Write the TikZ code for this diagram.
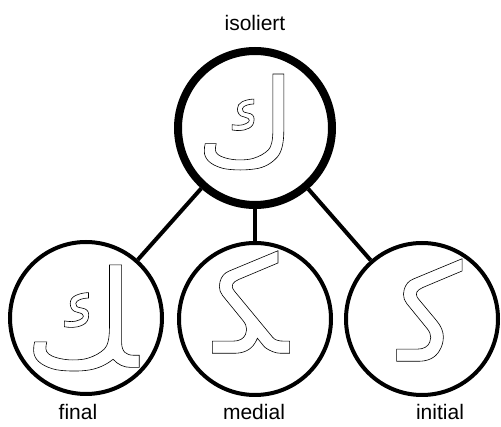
\documentclass[tikz,border=0pt]{standalone}
\usepackage{fontspec}
\setmainfont{Liberation Sans}
\newfontfamily\arabicfont[Script=Arabic]{DejaVu Sans}
\TeXXeTstate=1
\newcommand{\outlinetext}[1]{\special{pdf:literal direct 1 Tr 0.6 w}#1\special{pdf:literal direct 0 Tr}}
\tikzset{
  formcircle/.style={circle, draw=black, fill=white, line width=4pt, minimum size=152pt, inner sep=0pt},
  topcircle/.style={formcircle, line width=8pt, minimum size=154pt},
  link/.style={line width=4pt},
  label/.style={font=\fontsize{21pt}{24pt}\selectfont, inner sep=0pt},
  glyph/.style={font=\arabicfont\fontsize{135pt}{140pt}\selectfont, inner sep=0pt},
  bigglyph/.style={font=\arabicfont\fontsize{122pt}{128pt}\selectfont, inner sep=0pt}
}
\begin{document}
\begin{tikzpicture}[x=1pt,y=-1pt]
\useasboundingbox (0,0) rectangle (501,427);
\node[topcircle] (iso) at (255,128) {};
\node[formcircle] (fin) at (86,318) {};
\node[formcircle] (med) at (255,319) {};
\node[formcircle] (ini) at (422,319) {};
\draw[link] (iso) -- (fin);
\draw[link] (iso) -- (med);
\draw[link] (iso) -- (ini);
\node[bigglyph] (giso) at (246,122) {\outlinetext{\beginR ﻙ\endR}};
\node[glyph] (gfin) at (81,318) {\outlinetext{\beginR ﻚ\endR}};
\node[glyph] (gmed) at (251,302) {\outlinetext{\beginR ﻜ\endR}};
\node[glyph] (gini) at (430,310) {\outlinetext{\beginR ﻛ\endR}};
\node[label] (liso) at (255,23) {isoliert};
\node[label] (lfin) at (78,412) {final};
\node[label] (lmed) at (254,412) {medial};
\node[label] (lini) at (440,412) {initial};
\end{tikzpicture}
\end{document}
